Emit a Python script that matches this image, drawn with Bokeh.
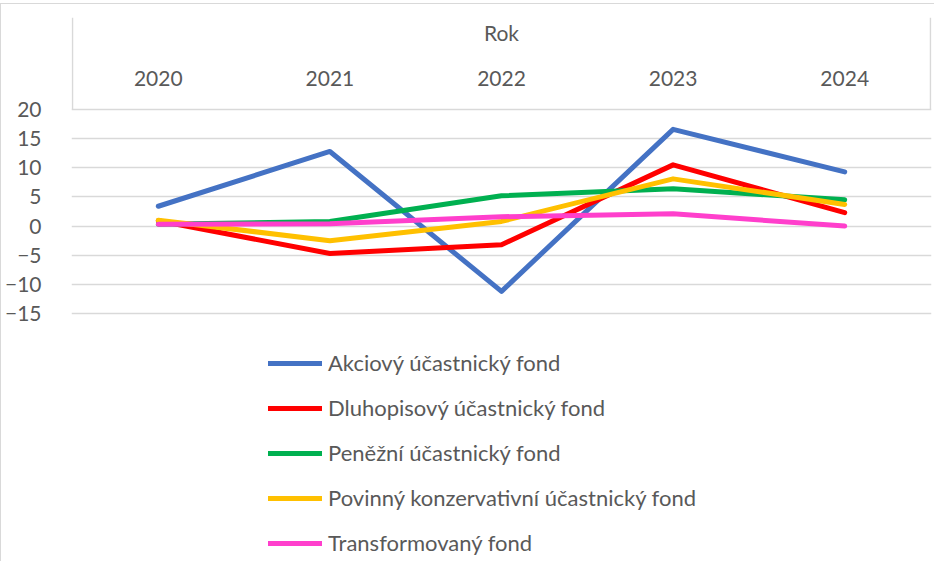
from bokeh.plotting import figure
from bokeh.models import Range1d, FixedTicker, Legend, LegendItem, ColumnDataSource
from bokeh.core.properties import value
from bokeh.embed import file_html
from bokeh.resources import INLINE

years = ["2020", "2021", "2022", "2023", "2024"]
axis_title = "Rok"
y_ticks = [-15, -10, -5, 0, 5, 10, 15, 20]

names = [
    "Akciový účastnický fond",
    "Dluhopisový účastnický fond",
    "Peněžní účastnický fond",
    "Povinný konzervativní účastnický fond",
    "Transformovaný fond",
]
akciovy = [3.4, 12.8, -11.2, 16.6, 9.3]
dluhopisovy = [0.9, -4.7, -3.2, 10.5, 2.3]
penezni = [0.3, 0.8, 5.2, 6.4, 4.5]
povinny = [1.0, -2.5, 0.8, 8.1, 3.7]
transformovany = [0.3, 0.4, 1.6, 2.1, 0.0]
series = [akciovy, dluhopisovy, penezni, povinny, transformovany]
colors = ["#4472C4", "#FF0000", "#00B050", "#FFC000", "#FF3FCC"]

FONT = "Lato"
TXT = "#595959"
FS = "21px"

p = figure(width=934, height=558,
           x_range=Range1d(-0.5058, 4.5058), y_range=Range1d(-57.377, 35.784),
           output_backend="svg", toolbar_location=None,
           min_border_left=69, min_border_right=4, min_border_top=13, min_border_bottom=2)
p.styles = {"margin-top": "3px", "border-top": "1px solid #d9d9d9", "border-left": "1px solid #d9d9d9"}
p.outline_line_color = None
p.xaxis.visible = False
p.xgrid.visible = False

ticker = FixedTicker(ticks=y_ticks)
p.yaxis.ticker = ticker
p.ygrid.ticker = ticker
p.ygrid.grid_line_color = "#D9D9D9"
p.ygrid.grid_line_width = 1.5
p.yaxis.axis_line_color = None
p.yaxis.major_tick_line_color = None
p.yaxis.minor_tick_line_color = None
p.yaxis.major_label_standoff = 24
p.yaxis.major_label_text_font = FONT
p.yaxis.major_label_text_font_size = FS
p.yaxis.major_label_text_color = TXT

# header box (pivot field area)
p.segment(x0=[-0.5, 4.5], y0=[20, 20], x1=[-0.5, 4.5], y1=[35.784, 35.784],
          line_color="#D9D9D9", line_width=1.5)
xs = list(range(len(years)))
hdr = ColumnDataSource(dict(x=xs, y=[25.3] * len(years), t=years))
p.text(x="x", y="y", text="t", source=hdr, text_font=value(FONT), text_font_size=FS,
       text_color=TXT, text_align="center", text_baseline="middle")
p.text(x=[2], y=[33.2], text=[axis_title], text_font=value(FONT), text_font_size=FS,
       text_color=TXT, text_align="center", text_baseline="middle")

items = []
for name, vals, c in zip(names, series, colors):
    r = p.line(xs, vals, line_color=c, line_width=5, line_cap="round", line_join="round")
    items.append(LegendItem(label=name, renderers=[r]))

legend = Legend(items=items, location=(197, 4), margin=0, padding=0,
                border_line_color=None, background_fill_alpha=0,
                glyph_width=54, glyph_height=20, label_height=20, spacing=18,
                label_standoff=6, label_text_font=FONT, label_text_font_size="22px",
                label_text_color=TXT)
p.add_layout(legend)

open("out.html", "w").write(file_html(p, INLINE))
